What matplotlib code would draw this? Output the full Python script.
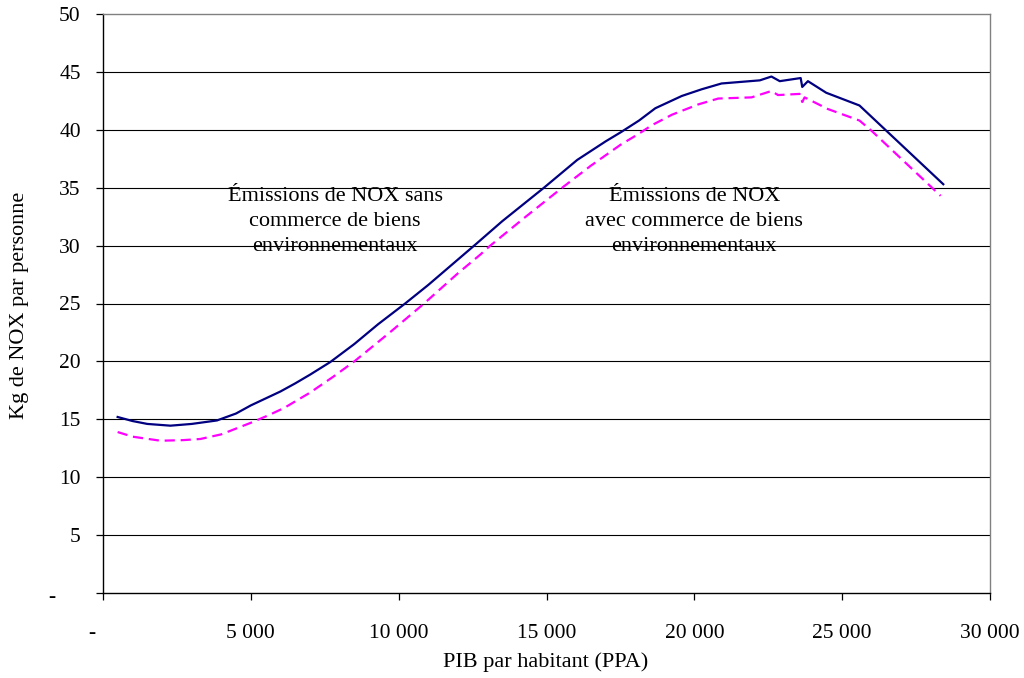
import matplotlib
matplotlib.use("Agg")
import matplotlib.pyplot as plt

# ---- data ----
x_sans = [495, 1000, 1500, 2281, 3000, 3854, 4500, 5000, 5500, 6000, 6500, 7000,
          7690, 8500, 9300, 10220, 11000, 11800, 12600, 13500, 14915, 16040,
          17000, 17520, 18130, 18680, 19575, 20250, 20920, 22215, 22607, 22890,
          23597, 23650, 23842, 24460, 25585, 28420]
y_sans = [15.2, 14.85, 14.6, 14.45, 14.6, 14.9, 15.5, 16.2, 16.8, 17.4, 18.1, 18.85,
          19.95, 21.5, 23.2, 25.0, 26.6, 28.35, 30.1, 32.1, 35.0, 37.4,
          39.0, 39.8, 40.8, 41.86, 42.92, 43.5, 44.0, 44.27, 44.6, 44.2,
          44.47, 43.7, 44.2, 43.2, 42.1, 35.3]

x_avec = [495, 1000, 1944, 2700, 3292, 4000, 5000, 5600, 6140, 7000, 7800, 8500,
          9700, 10860, 12000, 12750, 13100, 14300, 15530, 16500, 17500, 18130,
          18565, 19240, 20140, 20810, 21935, 22607, 22830, 23560, 23650, 23730,
          24510, 25585, 26000, 28330]
y_avec = [13.9, 13.5, 13.15, 13.2, 13.3, 13.7, 14.7, 15.35, 16.0, 17.3, 18.7, 20.0,
          22.5, 25.0, 27.6, 29.2, 30.0, 32.5, 35.0, 36.9, 38.7, 39.67,
          40.4, 41.3, 42.2, 42.7, 42.8, 43.35, 43.0, 43.1, 42.4, 42.8,
          41.8, 40.8, 39.9, 34.3]

x_ticks = [0, 5000, 10000, 15000, 20000, 25000, 30000]
x_ticklabels = ["", "5 000", "10 000", "15 000", "20 000", "25 000", "30 000"]
y_ticks = [0, 5, 10, 15, 20, 25, 30, 35, 40, 45, 50]
y_ticklabels = ["", "5", "10", "15", "20", "25", "30", "35", "40", "45", "50"]

label_sans = "Émissions de NOX sans\ncommerce de biens\nenvironnementaux"
label_avec = "Émissions de NOX\navec commerce de biens\nenvironnementaux"
xlabel = "PIB par habitant (PPA)"
ylabel = "Kg de NOX par personne"

plt.rcParams['font.family'] = ['Liberation Serif', 'DejaVu Serif']
FS = 16

fig = plt.figure(figsize=(10.24, 6.78), dpi=100)
ax = fig.add_axes([103/1024, 1-593/678, 887/1024, 579/678])

ax.set_xlim(0, 30000)
ax.set_ylim(0, 50)

for yv in y_ticks[1:-1]:
    ax.axhline(yv, color='black', lw=0.8, zorder=1)

ax.plot(x_sans, y_sans, color='#000080', lw=1.6, zorder=3)
ax.plot(x_avec, y_avec, color='#FF00FF', lw=1.6, dashes=(4.6, 2.6), zorder=3)

ax.set_xticks(x_ticks)
ax.set_xticklabels(x_ticklabels)
ax.set_yticks(y_ticks)
ax.set_yticklabels(y_ticklabels)
ax.tick_params(axis='both', direction='out', length=5, width=0.9,
               labelsize=FS - 0.5, color='black')
ax.tick_params(axis='x', pad=17)
ax.tick_params(axis='y', pad=11)

for s in ['left', 'bottom']:
    ax.spines[s].set_color('black')
    ax.spines[s].set_linewidth(1.0)
for s in ['top', 'right']:
    ax.spines[s].set_color('#808080')
    ax.spines[s].set_linewidth(1.0)

# zero labels shown as "-"
ax.annotate("-", xy=(0, 0), xycoords=('data', 'axes fraction'),
            xytext=(-8, -29), textcoords='offset points', ha='center', va='center',
            fontsize=FS - 0.5)
ax.annotate("-", xy=(0, 0), xycoords=('axes fraction', 'data'),
            xytext=(-37, -3), textcoords='offset points', ha='center', va='center',
            fontsize=FS - 0.5)

ax.text(7850, 32.1, label_sans, ha='center', va='center', fontsize=FS,
        linespacing=1.42, zorder=2)
ax.text(20000, 32.1, label_avec, ha='center', va='center', fontsize=FS,
        linespacing=1.42, zorder=2)

fig.text(546/1024, 1-662/678, xlabel, ha='center', va='center', fontsize=FS)
fig.text(20/1024, 1-305/678, ylabel, ha='center', va='center', fontsize=FS,
         rotation=90)

fig.savefig("out.png", dpi=100)
